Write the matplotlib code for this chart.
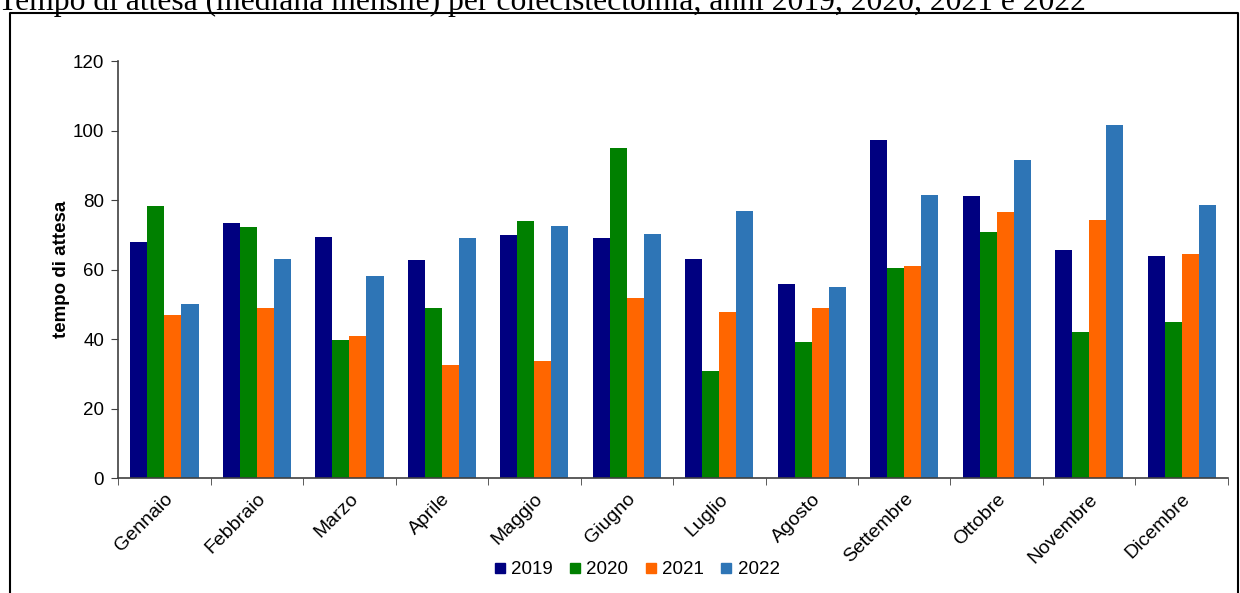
import numpy as np
import matplotlib.pyplot as plt
from matplotlib.lines import Line2D

# ========================= DATA =========================
mesi = ['Gennaio', 'Febbraio', 'Marzo', 'Aprile', 'Maggio', 'Giugno',
        'Luglio', 'Agosto', 'Settembre', 'Ottobre', 'Novembre', 'Dicembre']
anni = ['2019', '2020', '2021', '2022']

v2019 = [67.9, 73.3, 69.4, 62.8, 69.8, 69.0, 62.9, 55.9, 97.2, 81.2, 65.5, 63.9]
v2020 = [78.2, 72.1, 39.8, 48.9, 74.1, 95.1, 30.9, 39.0, 60.5, 70.9, 41.9, 44.9]
v2021 = [46.8, 48.9, 40.9, 32.6, 33.6, 51.9, 47.9, 48.9, 60.9, 76.5, 74.2, 64.5]
v2022 = [50.2, 63.1, 58.2, 69.1, 72.5, 70.2, 76.8, 54.9, 81.5, 91.5, 101.7, 78.5]

colori = ['#000080', '#008000', '#FF6600', '#2E75B6']

# ========================= PLOT =========================
plt.rcParams['font.family'] = ['Liberation Sans', 'DejaVu Sans']

fig = plt.figure(figsize=(12.4, 5.93), dpi=100)
ax = fig.add_axes([0.0952, 0.1939, 0.8951, 0.7032])

x = np.arange(len(mesi))
w = 0.185
serie = [v2019, v2020, v2021, v2022]
for k, (vals, col, lab) in enumerate(zip(serie, colori, anni)):
    ax.bar(x + (k - 1.5) * w, vals, width=w, color=col, label=lab)

ax.set_xlim(-0.5, len(mesi) - 0.5)
ax.set_ylim(0, 120)
ax.set_yticks(range(0, 121, 20))
ax.tick_params(axis='y', labelsize=13.5, length=5, color='#404040', pad=5)

ax.set_xticks(x)
ax.set_xticklabels(mesi, rotation=45, ha='right', rotation_mode='anchor', fontsize=14)
ax.set_xticks(np.arange(-0.5, len(mesi), 1), minor=True)
ax.tick_params(axis='x', which='major', length=0, pad=9)
ax.tick_params(axis='x', which='minor', length=5, color='#404040')

for s in ['top', 'right']:
    ax.spines[s].set_visible(False)
for s in ['left', 'bottom']:
    ax.spines[s].set_color('#404040')
    ax.spines[s].set_linewidth(1.2)

ax.set_ylabel('tempo di attesa', fontsize=13.5, fontweight='bold', labelpad=2)

handles = [Line2D([], [], marker='s', linestyle='none', markersize=7,
                  markerfacecolor=c, markeredgecolor=c) for c in colori]
fig.legend(handles, anni, loc='center', bbox_to_anchor=(0.512, 0.039),
           ncol=4, frameon=False, fontsize=13.5, handletextpad=0.1,
           columnspacing=0.7, handlelength=1.0)

# chart border (cut at the bottom)
bx0, bx1, by1 = 10 / 1240, 1238 / 1240, 1 - 13 / 593
fig.add_artist(Line2D([bx0, bx0, bx1, bx1], [-0.05, by1, by1, -0.05],
                      transform=fig.transFigure, color='black', linewidth=1.5))

# title, partly cut off at the top as in the original
fig.text(-0.002, 1 - 10 / 593, 'Tempo di attesa (mediana mensile) per colecistectomia, anni 2019, 2020, 2021 e 2022',
         family='Liberation Serif', fontsize=22.8, va='baseline', ha='left')

fig.savefig('out.png', dpi=100)
